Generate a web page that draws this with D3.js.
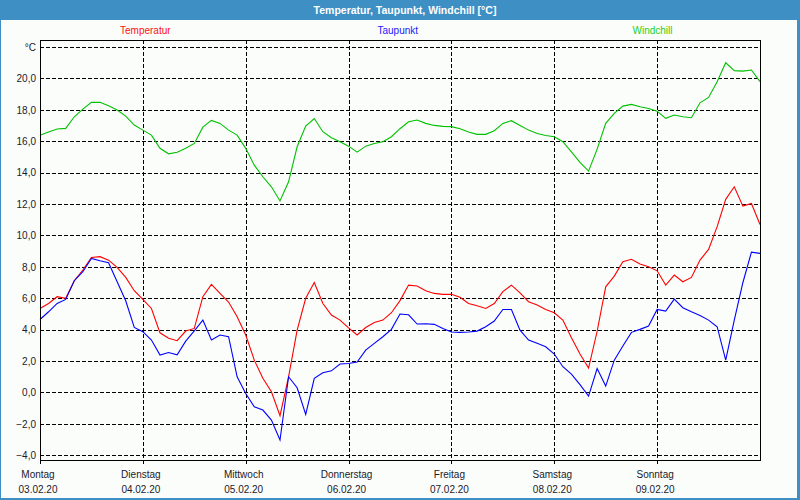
<!DOCTYPE html>
<html><head><meta charset="utf-8">
<script src="https://cdn.jsdelivr.net/npm/d3@7"></script>
<style>
html,body{margin:0;padding:0;background:#fbfdfb;}
svg{display:block;}
text{font-family:"Liberation Sans",Arial,sans-serif;}
</style></head>
<body>
<svg id="chart" width="800" height="500"></svg>
<script>
// ---- data (2-hour steps from Monday 03.02.20 00:00) ----
const stepHours = 2;
const dayNames = ["Montag","Dienstag","Mittwoch","Donnerstag","Freitag","Samstag","Sonntag"];
const dayDates = ["03.02.20","04.02.20","05.02.20","06.02.20","07.02.20","08.02.20","09.02.20"];
const yTicks = [-4,-2,0,2,4,6,8,10,12,14,16,18,20,22];
const seriesNames = ["Temperatur","Taupunkt","Windchill"];

const temperatur = [5.35,5.67,6.1,6.0,7.12,7.8,8.6,8.65,8.43,7.97,7.33,6.48,5.93,5.35,3.8,3.45,3.3,3.91,4.08,6.1,
 6.88,6.31,5.76,4.82,3.66,2.06,0.9,0.05,-1.48,1.0,3.97,6.0,7.0,5.67,4.93,4.61,4.12,3.66,4.14,4.46,
 4.61,5.08,5.85,6.84,6.78,6.48,6.31,6.25,6.25,6.06,5.67,5.52,5.35,5.67,6.42,6.84,6.35,5.78,5.57,5.29,
 5.08,4.61,3.49,2.45,1.55,3.9,6.73,7.41,8.33,8.48,8.18,8.01,7.75,6.84,7.48,7.05,7.33,8.43,9.11,10.56,
 12.3,13.1,11.87,12.04,10.7];
const taupunkt = [4.65,5.14,5.67,5.93,7.12,7.69,8.54,8.39,8.26,7.05,5.84,4.14,3.87,3.34,2.38,2.55,2.4,3.27,3.93,4.61,
 3.34,3.66,3.55,1.0,-0.06,-0.91,-1.12,-1.76,-3.03,1.0,0.3,-1.4,0.9,1.26,1.38,1.81,1.85,1.94,2.7,3.13,
 3.55,4.02,5.0,4.95,4.36,4.38,4.34,4.08,3.85,3.83,3.85,3.91,4.19,4.55,5.29,5.29,3.97,3.34,3.13,2.91,
 2.45,1.64,1.17,0.5,-0.23,1.53,0.41,2.06,2.96,3.83,4.02,4.23,5.29,5.18,5.95,5.4,5.14,4.91,4.61,4.19,
 2.06,4.61,6.99,8.94,8.86];
const windchill = [16.39,16.59,16.78,16.82,17.56,18.05,18.48,18.48,18.26,17.99,17.6,17.03,16.71,16.39,15.55,15.2,15.3,15.55,15.86,16.9,
 17.33,17.14,16.71,16.39,15.55,14.48,13.74,13.1,12.2,13.42,15.65,16.97,17.45,16.61,16.23,15.97,15.69,15.31,15.69,15.86,
 15.97,16.29,16.8,17.24,17.35,17.14,17.01,16.95,16.93,16.8,16.59,16.44,16.44,16.67,17.14,17.31,17.01,16.71,16.5,16.37,
 16.29,15.97,15.33,14.65,14.1,15.5,17.14,17.78,18.24,18.35,18.2,18.09,17.92,17.46,17.67,17.56,17.5,18.45,18.79,19.79,
 21.0,20.5,20.47,20.54,19.8];

// ---- layout ----
const W = 800, H = 500;
const plot = {left:40, right:760, top:40, bottom:460};
const colors = {Temperatur:"#ff0000", Taupunkt:"#0000ff", Windchill:"#00c000"};
const legendColors = {Temperatur:"#ff1010", Taupunkt:"#2020ff", Windchill:"#22d022"};
const legendX = {Temperatur:120, Taupunkt:377.5, Windchill:632.5};

const svg = d3.select("#chart");

// frame and title bar
svg.append("rect").attr("x",0).attr("y",0).attr("width",W).attr("height",H).attr("fill","#fbfdfb");
svg.append("rect").attr("x",0).attr("y",0).attr("width",W).attr("height",20).attr("fill","#3d8fc4");
svg.append("rect").attr("x",0).attr("y",0).attr("width",1).attr("height",H).attr("fill","#3d8fc4");
svg.append("rect").attr("x",W-3).attr("y",0).attr("width",3).attr("height",H).attr("fill","#3d8fc4");
svg.append("rect").attr("x",0).attr("y",H-2).attr("width",W).attr("height",2).attr("fill","#3d8fc4");
svg.append("text").attr("x",405).attr("y",14).attr("text-anchor","middle")
  .attr("fill","#ffffff").attr("font-weight","bold").attr("font-size","10.5px")
  .text("Temperatur, Taupunkt, Windchill [°C]");

// scales
const x = d3.scaleLinear().domain([0, 168]).range([plot.left, plot.right]);
const y = d3.scaleLinear().domain([-4.3, 22.45]).range([plot.bottom, plot.top]);

// grid
const g = svg.append("g").attr("shape-rendering","crispEdges");
g.selectAll("line.hg").data(yTicks).join("line")
  .attr("x1",plot.left).attr("x2",plot.right)
  .attr("y1",d=>Math.round(y(d))+0.5).attr("y2",d=>Math.round(y(d))+0.5)
  .attr("stroke","#000").attr("stroke-dasharray","4,2");
g.selectAll("line.vg").data(d3.range(1,7)).join("line")
  .attr("x1",d=>Math.round(x(d*24))+0.5).attr("x2",d=>Math.round(x(d*24))+0.5)
  .attr("y1",plot.top).attr("y2",plot.bottom)
  .attr("stroke","#000").attr("stroke-dasharray","4,2");

// series lines
const series = [
  {name:"Windchill", values:windchill},
  {name:"Temperatur", values:temperatur},
  {name:"Taupunkt", values:taupunkt}
];
const line = d3.line().x((d,i)=>x(i*stepHours)).y(d=>y(d));
svg.append("g").selectAll("path").data(series).join("path")
  .attr("d",d=>line(d.values)).attr("fill","none")
  .attr("stroke",d=>colors[d.name]).attr("stroke-width",1.1);

// plot box
svg.append("rect").attr("x",plot.left+0.5).attr("y",plot.top+0.5)
  .attr("width",plot.right-plot.left).attr("height",plot.bottom-plot.top)
  .attr("fill","none").attr("stroke","#000").attr("stroke-width",1.3).attr("shape-rendering","crispEdges");

// axes
const yAxis = d3.axisLeft(y).tickValues(yTicks).tickSize(0).tickPadding(4)
  .tickFormat(d=> d===22 ? "°C" : d3.format(".1f")(d).replace(".",",").replace("-","-"));
const ya = svg.append("g").attr("transform",`translate(${plot.left},0)`).call(yAxis);
ya.select(".domain").remove();
ya.selectAll("text").attr("font-size","10px").attr("fill","#1a1a2a")
  .attr("font-family","Liberation Sans, Arial, sans-serif");

const xAxis = d3.axisBottom(x).tickValues(d3.range(0,7).map(d=>d*24)).tickSize(4).tickFormat("");
const xa = svg.append("g").attr("transform",`translate(0,${plot.bottom})`).call(xAxis);
xa.select(".domain").remove();
xa.selectAll("line").attr("stroke","#000").attr("shape-rendering","crispEdges");

const dayG = svg.append("g").selectAll("g").data(dayNames).join("g")
  .attr("transform",(d,i)=>`translate(${x(i*24)-2},0)`);
dayG.append("text").attr("y",478).attr("text-anchor","middle").attr("font-size","10px").attr("fill","#1a1a2a").text(d=>d);
dayG.append("text").attr("y",493).attr("text-anchor","middle").attr("font-size","10px").attr("fill","#1a1a2a").text((d,i)=>dayDates[i]);

// legend
svg.append("g").selectAll("text").data(seriesNames).join("text")
  .attr("x",d=>legendX[d]).attr("y",34).attr("font-size","10px")
  .attr("fill",d=>legendColors[d]).text(d=>d);
</script>
</body></html>
